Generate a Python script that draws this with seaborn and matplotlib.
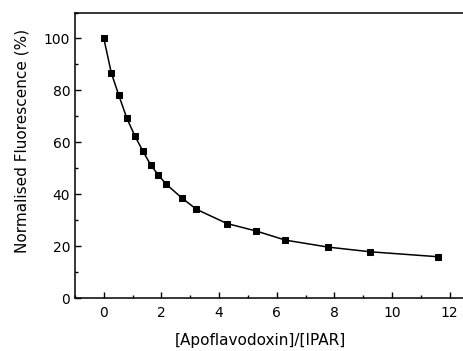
import matplotlib
matplotlib.use("Agg")
import matplotlib.pyplot as plt
import seaborn as sns
import pandas as pd
from matplotlib.ticker import MultipleLocator

ratio = [0.0, 0.26, 0.52, 0.80, 1.08, 1.35, 1.62, 1.89, 2.15, 2.70, 3.21, 4.27, 5.29, 6.30, 7.79, 9.25, 11.59]
fluor = [100.0, 86.7, 78.1, 69.2, 62.4, 56.7, 51.4, 47.4, 44.0, 38.6, 34.2, 28.7, 25.8, 22.3, 19.6, 17.8, 15.9]
x_label = "[Apoflavodoxin]/[IPAR]"
y_label = "Normalised Fluorescence (%)"

sns.set_style("ticks")
plt.rcParams["font.family"] = ["DejaVu Sans"]
plt.rcParams["text.color"] = "black"
plt.rcParams["axes.labelcolor"] = "black"

df = pd.DataFrame({"ratio": ratio, "fluor": fluor})

fig = plt.figure(figsize=(4.63, 3.51), dpi=100)
ax = fig.add_axes([75/463, 53/351, (467-75)/463, (298-12.5)/351])
sns.lineplot(data=df, x="ratio", y="fluor", ax=ax, color="black", linewidth=1.1,
             marker="s", markersize=4.5, markeredgecolor="black", sort=False)

ax.set_xlim(-1, 12.6)
ax.set_ylim(0, 110)
ax.xaxis.set_major_locator(MultipleLocator(2))
ax.xaxis.set_minor_locator(MultipleLocator(1))
ax.yaxis.set_major_locator(MultipleLocator(20))
ax.yaxis.set_minor_locator(MultipleLocator(10))
ax.tick_params(which="major", direction="in", length=4, width=1, labelsize=10, colors="black")
ax.tick_params(which="minor", direction="in", length=2, width=1, colors="black")
ax.tick_params(axis="x", pad=6)
for s in ax.spines.values():
    s.set_visible(True)
    s.set_linewidth(1.1)
    s.set_color("black")
ax.set_xlabel(x_label, fontsize=11, color="black")
ax.set_ylabel(y_label, fontsize=11, color="black")
ax.xaxis.set_label_coords(0.474, -0.123)
ax.yaxis.set_label_coords(-0.115, 0.55)

fig.savefig("out.png", dpi=100)
